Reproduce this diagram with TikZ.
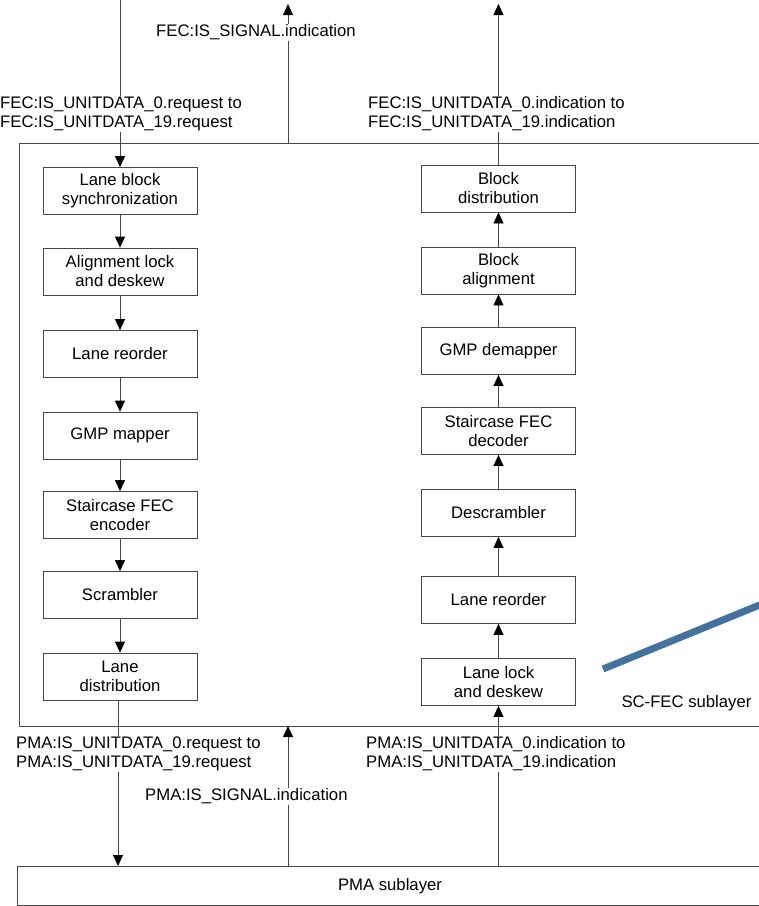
\documentclass[tikz,border=0pt]{standalone}
\usepackage{fontspec}
\setmainfont{Liberation Sans}
\usetikzlibrary{arrows.meta}
\definecolor{lineg}{RGB}{70,70,70}
\definecolor{steelb}{RGB}{68,114,158}
\begin{document}
\begin{tikzpicture}[x=1pt,y=-1pt,
  every node/.style={font=\fontsize{16.7}{19}\selectfont},
  blk/.style={draw=lineg,line width=0.8pt,minimum width=154pt,minimum height=47pt,align=center,inner sep=1pt},
  conn/.style={draw=lineg,line width=0.8pt,-{Triangle[length=11pt,width=10pt,color=black]}},
  plain/.style={draw=lineg,line width=0.8pt},
  lbl/.style={fill=white,inner sep=1pt,align=left}]
\useasboundingbox (0,0) rectangle (759,906);
% frames
\draw[plain] (759,143) -| (19,726) -- (759,726);
\draw[plain] (759,866) -| (17,905) -- (759,905);
% left column
\node[blk] (lbs) at (120,191) {Lane block\\synchronization};
\node[blk] (ald) at (120,271.5) {Alignment lock\\and deskew};
\node[blk] (llr) at (120,354) {Lane reorder};
\node[blk] (gmp) at (120,435.5) {GMP mapper};
\node[blk] (sfe) at (120,515) {Staircase FEC\\encoder};
\node[blk] (scr) at (120,595) {Scrambler};
\node[blk] (ld) at (120,676.5) {Lane\\distribution};
% right column
\node[blk] (bd) at (498.5,188.5) {Block\\distribution};
\node[blk] (ba) at (498.5,270.5) {Block\\alignment};
\node[blk] (gd) at (498.5,351) {GMP demapper};
\node[blk] (sfd) at (498.5,431) {Staircase FEC\\decoder};
\node[blk] (ds) at (498.5,513) {Descrambler};
\node[blk] (rlr) at (498.5,600) {Lane reorder};
\node[blk] (lld) at (498.5,682) {Lane lock\\and deskew};
% free ends
\coordinate (tin) at (120,0);
\coordinate (sigtop) at (288,4);
\coordinate (sigbot) at (288,143);
\coordinate (outtop) at (498.5,4);
\coordinate (pmaL) at (118,866);
\coordinate (psigbot) at (288,866);
\coordinate (psigtop) at (288,726);
\coordinate (pmaR) at (498.5,866);
% connectors
\draw[conn] (tin) -- (lbs);
\draw[conn] (lbs) -- (ald);
\draw[conn] (ald) -- (llr);
\draw[conn] (llr) -- (gmp);
\draw[conn] (gmp) -- (sfe);
\draw[conn] (sfe) -- (scr);
\draw[conn] (scr) -- (ld);
\draw[conn] (ld.south -| pmaL) -- (pmaL);
\draw[conn] (sigbot) -- (sigtop);
\draw[conn] (bd) -- (outtop);
\draw[conn] (ba) -- (bd);
\draw[conn] (gd) -- (ba);
\draw[conn] (sfd) -- (gd);
\draw[conn] (ds) -- (sfd);
\draw[conn] (rlr) -- (ds);
\draw[conn] (lld) -- (rlr);
\draw[conn] (pmaR) -- (lld);
\draw[conn] (psigbot) -- (psigtop);
% labels
\node[lbl,anchor=west] (l1) at (-1,114) {FEC:IS\_UNITDATA\_0.request to\\FEC:IS\_UNITDATA\_19.request};
\node[lbl] (l2) at (256,32.5) {FEC:IS\_SIGNAL.indication};
\node[lbl,anchor=west] (l3) at (367,114) {FEC:IS\_UNITDATA\_0.indication to\\FEC:IS\_UNITDATA\_19.indication};
\node[lbl,anchor=west] (l4) at (15,754) {PMA:IS\_UNITDATA\_0.request to\\PMA:IS\_UNITDATA\_19.request};
\node[lbl,anchor=west] (l5) at (144,796.5) {PMA:IS\_SIGNAL.indication};
\node[lbl,anchor=west] (l6) at (365,754) {PMA:IS\_UNITDATA\_0.indication to\\PMA:IS\_UNITDATA\_19.indication};
\node[anchor=west] (scl) at (618,703.5) {SC-FEC sublayer};
\node (pmal) at (390,886.5) {PMA sublayer};
% blue pointer line
\coordinate (bl1) at (603,669);
\coordinate (bl2) at (762,604);
\draw[steelb,line width=7pt] (bl1) -- (bl2);
\end{tikzpicture}
\end{document}
